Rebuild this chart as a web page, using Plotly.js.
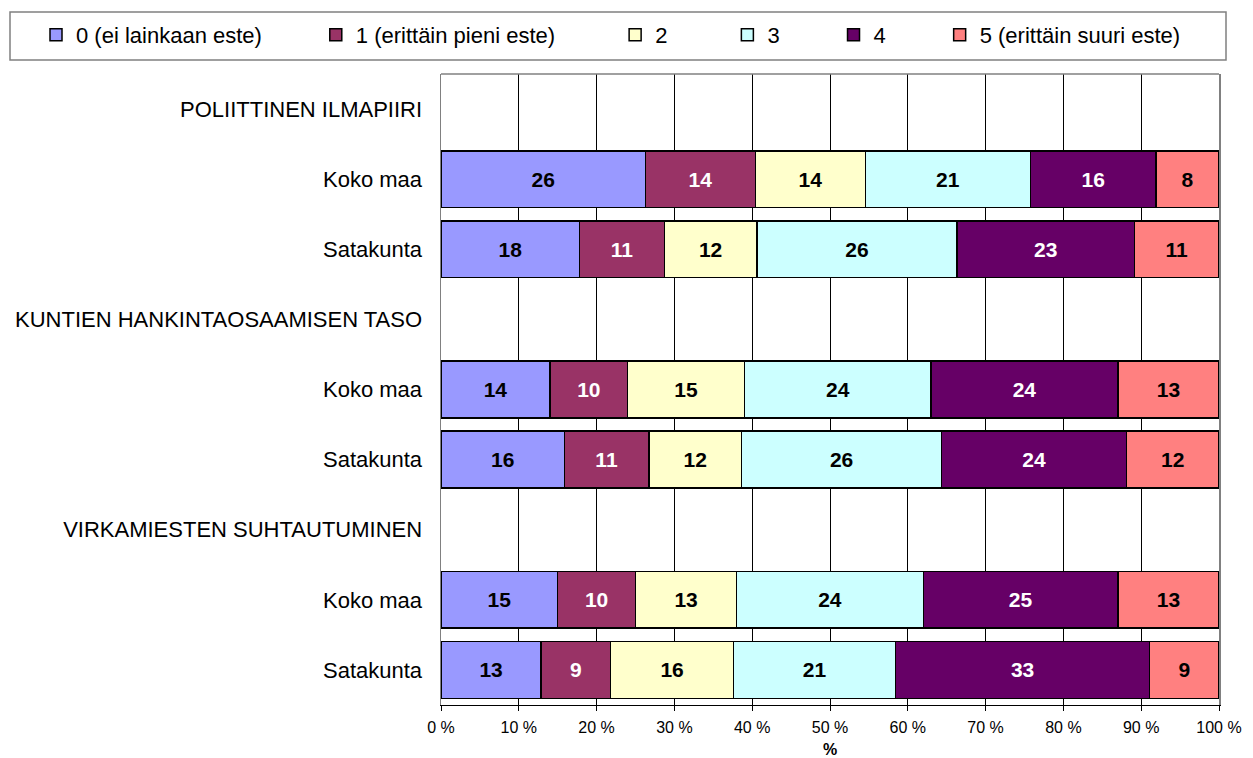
<!DOCTYPE html>
<html>
<head>
<meta charset="utf-8">
<script src="https://cdn.plot.ly/plotly-3.0.1.min.js"></script>
<style>html,body{margin:0;padding:0;background:#fff;}#chart{width:1253px;height:758px;}</style>
</head>
<body>
<div id="chart"></div>
<script>
// Row labels (top to bottom)
const rowLabels = ['POLIITTINEN ILMAPIIRI', 'Koko maa', 'Satakunta',
  'KUNTIEN HANKINTAOSAAMISEN TASO', 'Koko maa', 'Satakunta',
  'VIRKAMIESTEN SUHTAUTUMINEN', 'Koko maa', 'Satakunta'];
// Row indices that carry bars
const barRows = [1, 2, 4, 5, 7, 8];
// Series names
const seriesNames = ['0 (ei lainkaan este)', '1 (erittäin pieni este)', '2', '3', '4', '5 (erittäin suuri este)'];
// Series values (%), one per bar row
const s0 = [26, 18, 14, 16, 15, 13];
const s1 = [14, 11, 10, 11, 10, 9];
const s2 = [14, 12, 15, 12, 13, 16];
const s3 = [21, 26, 24, 26, 24, 21];
const s4 = [16, 23, 24, 24, 25, 33];
const s5 = [8, 11, 13, 12, 13, 9];
// X tick values
const xTicks = [0, 10, 20, 30, 40, 50, 60, 70, 80, 90, 100];

const seriesValues = [s0, s1, s2, s3, s4, s5];
const colors = ['#9999FF', '#993366', '#FFFFCC', '#CCFFFF', '#660066', '#FF8080'];
const textColors = ['#000', '#fff', '#000', '#000', '#fff', '#000'];
const legendPad = [8, 9, 9, 8, 8, 0];

const traces = seriesValues.map((vals, i) => ({
  type: 'bar',
  orientation: 'h',
  name: seriesNames[i] + '\u00a0'.repeat(legendPad[i]),
  x: vals,
  y: barRows,
  text: vals.map(String),
  texttemplate: '%{text}',
  textposition: 'inside',
  insidetextanchor: 'middle',
  textangle: 0,
  constraintext: 'none',
  insidetextfont: {family: 'Liberation Sans, Arial, sans-serif', size: 21, color: textColors[i], weight: 'bold'},
  marker: {color: colors[i], line: {color: '#000', width: 1.5}},
  hoverinfo: 'skip'
}));

const W = 1253, H = 758;
const L = 441, R = 34, T = 74, B = 53;
const pw = W - L - R, ph = H - T - B;
const px = x => (x - L) / pw;
const py = y => 1 - (y - T) / ph;

const layout = {
  width: W, height: H,
  margin: {l: L, r: R, t: T, b: B, autoexpand: false},
  paper_bgcolor: '#fff', plot_bgcolor: '#fff',
  font: {family: 'Liberation Sans, Arial, sans-serif', color: '#000'},
  barmode: 'stack',
  barnorm: 'percent',
  bargap: 0.19,
  showlegend: true,
  legend: {
    orientation: 'h', x: px(36), xanchor: 'left', y: py(35), yanchor: 'middle',
    font: {size: 22, color: '#000'}, bgcolor: 'rgba(0,0,0,0)', borderwidth: 0,
    traceorder: 'normal'
  },
  xaxis: {
    range: [0, 100], tickvals: xTicks, ticktext: xTicks.map(v => v + ' %'),
    ticks: 'outside', ticklen: 5, tickcolor: '#000', tickwidth: 1,
    ticklabelstandoff: 3,
    showgrid: true, gridcolor: '#000', gridwidth: 1, zeroline: false,
    showline: true, linecolor: '#000', linewidth: 1,
    tickfont: {size: 16},
    title: {text: '%', font: {size: 16, weight: 'bold'}, standoff: 10},
    fixedrange: true
  },
  yaxis: {
    range: [8.5, -0.5], tickvals: rowLabels.map((_, i) => i), ticktext: rowLabels,
    ticks: '', ticklabelstandoff: 13, showgrid: false, zeroline: false,
    showline: true, mirror: true, linecolor: '#808080', linewidth: 1.5,
    tickfont: {size: 22}, fixedrange: true
  },
  shapes: [
    {type: 'line', xref: 'paper', yref: 'paper', x0: 0, x1: 1, y0: 1, y1: 1, line: {color: '#808080', width: 1.5}},
    {type: 'rect', xref: 'paper', yref: 'paper', x0: px(10), x1: px(1226), y0: py(12), y1: py(60), line: {color: '#808080', width: 1.5}, fillcolor: 'rgba(0,0,0,0)', layer: 'below'}
  ]
};

Plotly.newPlot('chart', traces, layout, {displayModeBar: false, staticPlot: true});
</script>
</body>
</html>
